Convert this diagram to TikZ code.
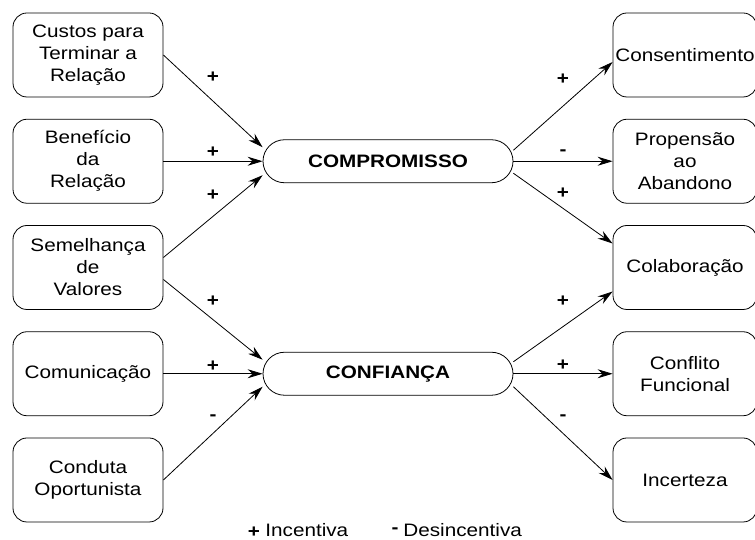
\documentclass[tikz,border=0pt]{standalone}
\usepackage{fontspec}
\setmainfont{Liberation Sans}[FakeStretch=1.15]
\usetikzlibrary{arrows.meta,shapes.misc}

\begin{document}
\begin{tikzpicture}[x=1pt,y=1pt,line width=0.8pt,
  >={Stealth[length=15pt,width=9pt,inset=5pt]},
  factor/.style={rectangle,rounded corners=14pt,draw=black,minimum width=150pt,minimum height=84pt,inner sep=0pt,align=center,font=\fontsize{18}{22}\selectfont},
  construct/.style={rounded rectangle,draw=black,minimum width=250pt,minimum height=43pt,inner sep=0pt,font=\fontsize{18}{22}\selectfont\bfseries},
  sign/.style={inner sep=0pt,font=\fontsize{18}{22}\selectfont\bfseries},
  legend/.style={inner sep=0pt,anchor=base west,font=\fontsize{18}{22}\selectfont}]
\useasboundingbox (0,0) rectangle (755,540);
% Set left
\draw (88,485) node(l1)[factor] {Custos para\\Terminar a\\Relação} +(0,-106.25) node(l2)[factor] {Benefício\\da\\Relação} +(0,-212.5) node(l3)[factor] {Semelhança\\de\\Valores} +(0,-318.75) node(l4)[factor] {Comunicação} +(0,-425) node(l5)[factor] {Conduta\\Oportunista};
% Set middle
\draw (388,378.75) node(cp)[construct] {COMPROMISSO} +(0,-212.5) node(cf)[construct] {CONFIANÇA};
% Set right
\draw (685,485) node(r1)[factor,minimum width=144pt] {Consentimento} +(0,-106.25) node(r2)[factor,minimum width=144pt] {Propensão\\ao\\Abandono} +(0,-212.5) node(r3)[factor,minimum width=144pt] {Colaboração} +(0,-318.75) node(r4)[factor,minimum width=144pt] {Conflito\\Funcional} +(0,-425) node(r5)[factor,minimum width=144pt] {Incerteza};
% Arrows left
\draw[->] (l1.east) -- node[sign,yshift=24pt] {+} ([yshift=14pt]cp.west);
\draw[->] (l2.east) -- node[sign,yshift=9pt] {+} (cp.west);
\draw[->] ([yshift=10pt]l3.east) -- node[sign,yshift=21pt] {+} ([yshift=-14pt]cp.west);
\draw[->] ([yshift=-12pt]l3.east) -- node[sign,yshift=18pt] {+} ([yshift=14pt]cf.west);
\draw[->] (l4.east) -- node[sign,yshift=8pt] {+} (cf.west);
\draw[->] (l5.east) -- node[sign,yshift=16pt] {-} ([yshift=-13pt]cf.west);
% Arrows right
\draw[->] ([yshift=11pt]cp.east) -- node[sign,yshift=27pt] {+} ([yshift=-7pt]r1.west);
\draw[->] (cp.east) -- node[sign,yshift=9pt] {-} (r2.west);
\draw[->] ([yshift=-12pt]cp.east) -- node[sign,yshift=15pt] {+} ([yshift=24pt]r3.west);
\draw[->] ([yshift=12pt]cf.east) -- node[sign,yshift=25pt] {+} ([yshift=-24pt]r3.west);
\draw[->] (cf.east) -- node[sign,yshift=9pt] {+} (r4.west);
\draw[->] ([yshift=-13pt]cf.east) -- node[sign,yshift=16pt] {-} (r5.west);
% Legend
\node(k1)[sign] at (254,7.5) {+};
\node(k2)[legend] at (265,3.5) {Incentiva};
\node(k3)[sign] at (395,9) {-};
\node(k4)[legend] at (403,3.5) {Desincentiva};
\end{tikzpicture}
\end{document}
